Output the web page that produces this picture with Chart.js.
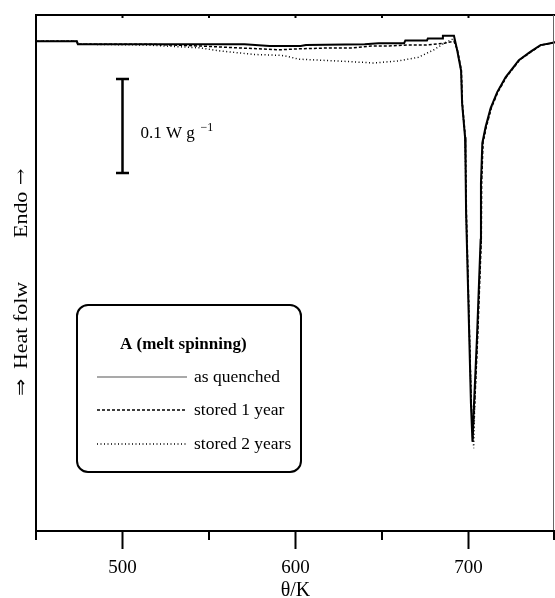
<!DOCTYPE html>
<html lang="en">
	<head>
		<meta charset="utf-8" />
		<script src="https://cdn.jsdelivr.net/npm/chart.js@4/dist/chart.umd.min.js"></script>
		<style>
			body { margin: 0; background: #fff; }
		</style>
	</head>
	<body>
		<canvas id="dscChart" width="555" height="598"></canvas>
	</body>
	<script>
		// temperature in K, heat flow in W/g (zero is arbitrary, endo up)
		const quenchedT = [450, 473.6, 474.2, 570.5, 585, 603, 606, 640, 648, 662.8, 663.5, 676, 676.5, 684.7, 685.2, 691.6, 693.4, 695.7, 696.3, 698.0, 698.3, 698.6, 699.7, 701.4, 702.3, 703.2, 704.9, 707.0, 707.2, 708.0, 709.9, 712.8, 716.6, 721.5, 729.1, 735.9, 741.6, 747.4, 750];
		const quenchedHF = [0.521, 0.521, 0.518, 0.518, 0.516, 0.516, 0.517, 0.518, 0.519, 0.519, 0.522, 0.522, 0.524, 0.524, 0.527, 0.527, 0.512, 0.490, 0.455, 0.419, 0.387, 0.339, 0.260, 0.136, 0.095, 0.136, 0.206, 0.310, 0.370, 0.413, 0.430, 0.450, 0.467, 0.483, 0.501, 0.510, 0.517, 0.519, 0.520];

		const year1T = [450, 473.6, 474.2, 515, 545, 567, 591, 602, 621, 633, 644, 654, 664.5, 675, 686, 691.6, 693.6, 695.9, 696.5, 698.2, 698.5, 698.8, 699.9, 701.6, 702.5, 703.6, 705.3, 707.4, 707.6, 708.4, 710.3, 713.2, 717.0, 721.9, 729.5, 736.3, 742.0, 747.8, 750];
		const year1HF = [0.521, 0.521, 0.518, 0.518, 0.516, 0.514, 0.512, 0.513, 0.514, 0.514, 0.516, 0.516, 0.517, 0.517, 0.519, 0.521, 0.512, 0.490, 0.455, 0.419, 0.387, 0.339, 0.260, 0.136, 0.095, 0.136, 0.206, 0.310, 0.370, 0.413, 0.430, 0.450, 0.467, 0.483, 0.501, 0.510, 0.517, 0.519, 0.520];

		const year2T = [450, 473.6, 474.2, 515, 545, 555.5, 576, 592, 595, 602, 625, 645, 659, 671, 680, 686, 691.6, 693.4, 695.7, 696.3, 698.0, 698.3, 698.6, 699.8, 701.6, 703.0, 703.6, 705.1, 707.2, 707.4, 708.2, 710.1, 713.0, 716.8, 721.7, 729.3, 736.1, 741.8, 747.6, 750];
		const year2HF = [0.521, 0.521, 0.518, 0.517, 0.514, 0.511, 0.507, 0.506, 0.505, 0.502, 0.500, 0.498, 0.500, 0.504, 0.512, 0.519, 0.524, 0.512, 0.490, 0.455, 0.419, 0.387, 0.339, 0.260, 0.136, 0.088, 0.136, 0.206, 0.310, 0.370, 0.413, 0.430, 0.450, 0.467, 0.483, 0.501, 0.510, 0.517, 0.519, 0.520];

		const seriesNames = ["as quenched", "stored 1 year", "stored 2 years"];
		const xTicks = [450, 500, 550, 600, 650, 700, 750];
		const labeledTicks = [500, 600, 700];
		const scaleBarT = 500;
		const scaleBarHF = [0.381, 0.481]; // 0.1 W/g

		const serif = "'Liberation Serif', 'DejaVu Serif', serif";
		const dashes = [[], [3, 2], [1, 2.5]];

		function toPoints(t, hf) {
			return t.map((x, i) => ({ x: x, y: hf[i] }));
		}

		const framePlugin = {
			id: "frame",
			afterDatasetsDraw(chart) {
				const ctx = chart.ctx;
				const area = chart.chartArea;
				const xs = chart.scales.x;
				const ys = chart.scales.y;
				ctx.save();
				ctx.strokeStyle = "#000";
				ctx.fillStyle = "#000";

				// left + top border
				ctx.lineWidth = 2;
				ctx.beginPath();
				ctx.moveTo(area.left, area.bottom + 9);
				ctx.lineTo(area.left, area.top);
				ctx.lineTo(area.right, area.top);
				ctx.stroke();

				// right border, thin
				ctx.lineWidth = 1;
				ctx.strokeStyle = "#666";
				ctx.beginPath();
				ctx.moveTo(area.right - 1.5, area.top);
				ctx.lineTo(area.right - 1.5, area.bottom);
				ctx.stroke();

				// bottom axis with ticks
				ctx.strokeStyle = "#000";
				ctx.lineWidth = 2;
				ctx.beginPath();
				ctx.moveTo(area.left, area.bottom);
				ctx.lineTo(area.right, area.bottom);
				xTicks.forEach(t => {
					const px = Math.min(xs.getPixelForValue(t), area.right - 1);
					const len = labeledTicks.includes(t) ? 18 : 9;
					ctx.moveTo(px, area.bottom);
					ctx.lineTo(px, area.bottom + len);
					if (t > 450 && t < 750) {
						ctx.moveTo(px, area.top);
						ctx.lineTo(px, area.top + 3);
					}
				});
				ctx.stroke();

				// scale bar
				const bx = xs.getPixelForValue(scaleBarT);
				const b0 = ys.getPixelForValue(scaleBarHF[0]);
				const b1 = ys.getPixelForValue(scaleBarHF[1]);
				ctx.lineWidth = 2.5;
				ctx.beginPath();
				ctx.moveTo(bx, b0);
				ctx.lineTo(bx, b1);
				ctx.moveTo(bx - 6.5, b0);
				ctx.lineTo(bx + 6.5, b0);
				ctx.moveTo(bx - 6.5, b1);
				ctx.lineTo(bx + 6.5, b1);
				ctx.stroke();
				ctx.textBaseline = "alphabetic";
				ctx.textAlign = "left";
				ctx.font = "17px " + serif;
				ctx.fillText("0.1 W g", bx + 18, 138);
				ctx.font = "12px " + serif;
				ctx.fillText("\u22121", bx + 78, 131);

				// y label, stretched along its length like the scan
				ctx.save();
				ctx.translate(27, 0);
				ctx.rotate(-Math.PI / 2);
				ctx.scale(1.22, 1);
				ctx.textAlign = "left";
				ctx.font = "17px 'DejaVu Sans', sans-serif";
				ctx.fillText("\u21D2", -396 / 1.22, -1);
				ctx.font = "16px 'DejaVu Serif', serif";
				ctx.fillText("\u2192", -185 / 1.22, -1);
				ctx.font = "18px " + serif;
				ctx.fillText("Heat folw", -369 / 1.22, 0);
				ctx.fillText("Endo", -238 / 1.22, 0);
				ctx.restore();

				// legend box
				ctx.lineWidth = 2;
				ctx.beginPath();
				ctx.roundRect(77, 305, 224, 167, 11);
				ctx.stroke();
				ctx.font = "bold 17px " + serif;
				ctx.textAlign = "left";
				ctx.fillText("A (melt spinning)", 120, 349);
				ctx.font = "17.5px " + serif;
				const rows = [377, 410, 444];
				seriesNames.forEach((name, i) => {
					ctx.lineWidth = i === 0 ? 1.2 : 1.3;
					ctx.strokeStyle = i === 0 ? "#555" : "#000";
					ctx.setLineDash(dashes[i]);
					ctx.beginPath();
					ctx.moveTo(97, rows[i]);
					ctx.lineTo(187, rows[i]);
					ctx.stroke();
					ctx.setLineDash([]);
					ctx.fillText(name, 194, rows[i] + 5);
				});
				ctx.restore();
			}
		};

		var ctx = document.getElementById("dscChart").getContext("2d");
		var dscChart = new Chart(ctx, {
			type: "line",
			data: {
				datasets: [
					{
						label: seriesNames[2],
						data: toPoints(year2T, year2HF),
						borderColor: "#000",
						borderWidth: 1.5,
						borderDash: dashes[2]
					},
					{
						label: seriesNames[1],
						data: toPoints(year1T, year1HF),
						borderColor: "#000",
						borderWidth: 1.5,
						borderDash: dashes[1]
					},
					{
						label: seriesNames[0],
						data: toPoints(quenchedT, quenchedHF),
						borderColor: "#000",
						borderWidth: 2
					}
				]
			},
			options: {
				responsive: false,
				animation: false,
				devicePixelRatio: 1,
				layout: { padding: { left: 36, right: 0, top: 15, bottom: 0 }, autoPadding: false },
				elements: { point: { radius: 0 }, line: { tension: 0 } },
				plugins: { legend: { display: false }, tooltip: { enabled: false } },
				scales: {
					x: {
						type: "linear",
						min: 450,
						max: 750,
						afterBuildTicks: axis => {
							axis.ticks = xTicks.map(v => ({ value: v }));
						},
						afterFit: axis => {
							axis.height = 67;
						},
						// invisible tick marks only push the labels down
						grid: {
							display: true,
							drawOnChartArea: false,
							drawTicks: true,
							tickLength: 26,
							tickColor: "rgba(0,0,0,0)"
						},
						border: { display: false },
						ticks: {
							autoSkip: false,
							maxRotation: 0,
							padding: 0,
							color: "#000",
							font: { family: serif, size: 19 },
							callback: v => (labeledTicks.includes(v) ? String(v) : "")
						},
						title: {
							display: true,
							text: "\u03B8/K",
							color: "#000",
							font: { family: serif, size: 20 },
							padding: { top: 0, bottom: -5 }
						}
					},
					y: {
						display: false,
						min: 0,
						max: 0.549
					}
				}
			},
			plugins: [framePlugin]
		});
	</script>
</html>
